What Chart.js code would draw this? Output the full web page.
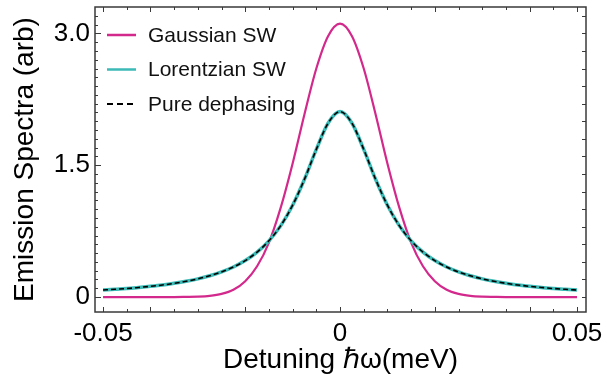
<!DOCTYPE html>
<html>
<head>
<meta charset="utf-8">
<script src="https://cdn.jsdelivr.net/npm/chart.js@4.4.1/dist/chart.umd.min.js"></script>
<style>
  html, body { margin: 0; padding: 0; background: #fff; }
  #wrap { width: 608px; height: 378px; }
</style>
</head>
<body>
<div id="wrap"><canvas id="spectra"></canvas></div>
<script>
    // Detuning values (meV)
    const detuning = [
    -0.05, -0.0475, -0.045, -0.0425, -0.04, -0.0375, -0.035, -0.0325, -0.03, -0.0275,
    -0.025, -0.0225, -0.02, -0.0175, -0.015, -0.0125, -0.01, -0.0075, -0.005, -0.0025,
    0,
    0.0025, 0.005, 0.0075, 0.01, 0.0125, 0.015, 0.0175, 0.02, 0.0225, 0.025,
    0.0275, 0.03, 0.0325, 0.035, 0.0375, 0.04, 0.0425, 0.045, 0.0475, 0.05
];

    // Emission spectra
    const gaussianSW = [
    0, 0, 0, 0, 0, 0, 0, 0.002, 0.005, 0.014,
    0.036, 0.083, 0.18, 0.35, 0.62, 1.02, 1.52, 2.08, 2.60, 2.97,
    3.11,
    2.97, 2.60, 2.08, 1.52, 1.02, 0.62, 0.35, 0.18, 0.083, 0.036,
    0.014, 0.005, 0.002, 0, 0, 0, 0, 0, 0, 0
];
    const lorentzianSW = [
    0.080, 0.088, 0.097, 0.109, 0.122, 0.137, 0.156, 0.179, 0.207, 0.242,
    0.286, 0.342, 0.415, 0.512, 0.640, 0.813, 1.045, 1.34, 1.68, 1.98,
    2.11,
    1.98, 1.68, 1.34, 1.045, 0.813, 0.640, 0.512, 0.415, 0.342, 0.286,
    0.242, 0.207, 0.179, 0.156, 0.137, 0.122, 0.109, 0.097, 0.088, 0.080
];
    const pureDephasing = [
    0.080, 0.088, 0.097, 0.109, 0.122, 0.137, 0.156, 0.179, 0.207, 0.242,
    0.286, 0.342, 0.415, 0.512, 0.640, 0.813, 1.045, 1.34, 1.68, 1.98,
    2.11,
    1.98, 1.68, 1.34, 1.045, 0.813, 0.640, 0.512, 0.415, 0.342, 0.286,
    0.242, 0.207, 0.179, 0.156, 0.137, 0.122, 0.109, 0.097, 0.088, 0.080
];

    // Tick labels
    const xTickValues = [-0.05, 0, 0.05];
    const xTickLabels = ['-0.05', '0', '0.05'];
    const yTickValues = [0, 1.5, 3.0];
    const yTickLabels = ['0', '1.5', '3.0'];

    const seriesNames = ['Gaussian SW', 'Lorentzian SW', 'Pure dephasing'];

    const PINK = '#d3298c';
    const TEAL = '#3bbab6';
    const FRAME = '#3a3a3a';
    const FONT = '"Liberation Sans", Arial, sans-serif';

    function toPoints(ys) {
    return detuning.map((x, i) => ({ x: x, y: ys[i] }));
}

    // Inward minor/major ticks on all four sides, plus the frame
    const frameTicks = {
    id: 'frameTicks',
    afterDatasetsDraw(chart) {
    const { ctx, chartArea: a, scales } = chart;
    const xs = scales.x, ys = scales.y;
    ctx.save();
    ctx.strokeStyle = FRAME;
    ctx.lineWidth = 1;

    // x ticks every 0.005
    for (let k = -10; k <= 10; k++) {
    const px = Math.round(xs.getPixelForValue(k * 0.005)) + 0.5;
    const major = (k % 4 === 0) || Math.abs(k) === 10;
    const len = major ? 5 : 3;
    ctx.beginPath();
    ctx.moveTo(px, a.bottom); ctx.lineTo(px, a.bottom - len);
    ctx.moveTo(px, a.top); ctx.lineTo(px, a.top + len);
    ctx.stroke();
}
    // left y ticks every 0.1
    for (let k = 0; k <= 32; k++) {
    const py = Math.round(ys.getPixelForValue(k * 0.1)) + 0.5;
    const len = (k % 15 === 0) ? 6 : 3;
    ctx.beginPath();
    ctx.moveTo(a.left, py); ctx.lineTo(a.left + len, py);
    ctx.stroke();
}
    // right y ticks every 0.2
    for (let k = 0; k <= 16; k++) {
    const py = Math.round(ys.getPixelForValue(k * 0.2)) + 0.5;
    ctx.beginPath();
    ctx.moveTo(a.right, py); ctx.lineTo(a.right - 4, py);
    ctx.stroke();
}

    ctx.lineWidth = 1.5;
    ctx.strokeRect(a.left, a.top, a.right - a.left, a.bottom - a.top);
    ctx.restore();
}
};

    // Legend drawn inside the plot, top left
    const insideLegend = {
    id: 'insideLegend',
    afterDraw(chart) {
    const { ctx, chartArea: a } = chart;
    ctx.save();
    ctx.font = '21px ' + FONT;
    ctx.textBaseline = 'middle';
    ctx.fillStyle = '#111';
    chart.data.datasets.forEach((ds, i) => {
    const y = a.top + 28 + i * 34.5;
    const x0 = a.left + 12;
    ctx.beginPath();
    ctx.strokeStyle = ds.borderColor;
    ctx.lineWidth = i === 2 ? 2 : 2.5;
    ctx.setLineDash(i === 2 ? [6, 4] : []);
    ctx.moveTo(x0, y);
    ctx.lineTo(x0 + 29, y);
    ctx.stroke();
    ctx.setLineDash([]);
    ctx.fillText(ds.label, x0 + 41, y + 1);
});
    ctx.restore();
}
};

    new Chart(document.getElementById('spectra'), {
    type: 'line',
    data: {
    datasets: [{
    label: seriesNames[0],
    data: toPoints(gaussianSW),
    borderColor: PINK,
    borderWidth: 2.2,
    pointRadius: 0,
    order: 2,
    cubicInterpolationMode: 'monotone'
}, {
    label: seriesNames[1],
    data: toPoints(lorentzianSW),
    borderColor: TEAL,
    borderWidth: 3.5,
    pointRadius: 0,
    order: 1,
    cubicInterpolationMode: 'monotone'
}, {
    label: seriesNames[2],
    data: toPoints(pureDephasing),
    borderColor: '#000',
    borderWidth: 1.6,
    borderDash: [5, 3],
    pointRadius: 0,
    order: 0,
    cubicInterpolationMode: 'monotone'
}]
},
    options: {
    responsive: true,
    maintainAspectRatio: false,
    animation: false,
    layout: { autoPadding: false, padding: { top: 7, right: 22, left: 0, bottom: 0 } },
    plugins: {
    legend: { display: false },
    tooltip: { enabled: false }
},
    scales: {
    x: {
    type: 'linear',
    min: -0.0517,
    max: 0.0519,
    afterBuildTicks: s => { s.ticks = xTickValues.map(v => ({ value: v })); },
    afterFit: s => { s.height = 66; s.paddingLeft = 0; s.paddingRight = 0; },
    ticks: {
    autoSkip: false,
    maxRotation: 0,
    color: '#000',
    padding: 6,
    font: { family: FONT, size: 26 },
    callback: v => xTickLabels[xTickValues.indexOf(v)]
},
    grid: { display: false, drawTicks: false },
    border: { display: false },
    title: {
    display: true,
    text: 'Detuning ℏω(meV)',
    color: '#000',
    padding: { top: 0, bottom: 1 },
    font: { family: FONT, size: 28 }
}
},
    y: {
    type: 'linear',
    min: -0.17,
    max: 3.30,
    afterBuildTicks: s => { s.ticks = yTickValues.map(v => ({ value: v })); },
    afterFit: s => { s.width = 95; s.paddingTop = 0; s.paddingBottom = 0; },
    ticks: {
    autoSkip: false,
    color: '#000',
    padding: 5,
    font: { family: FONT, size: 26 },
    callback: v => yTickLabels[yTickValues.indexOf(v)]
},
    grid: { display: false, drawTicks: false },
    border: { display: false },
    title: {
    display: true,
    text: 'Emission Spectra (arb)',
    color: '#000',
    padding: { top: 8, bottom: 0 },
    font: { family: FONT, size: 28 }
}
}
}
},
    plugins: [frameTicks, insideLegend]
});
</script>
</body>
</html>
